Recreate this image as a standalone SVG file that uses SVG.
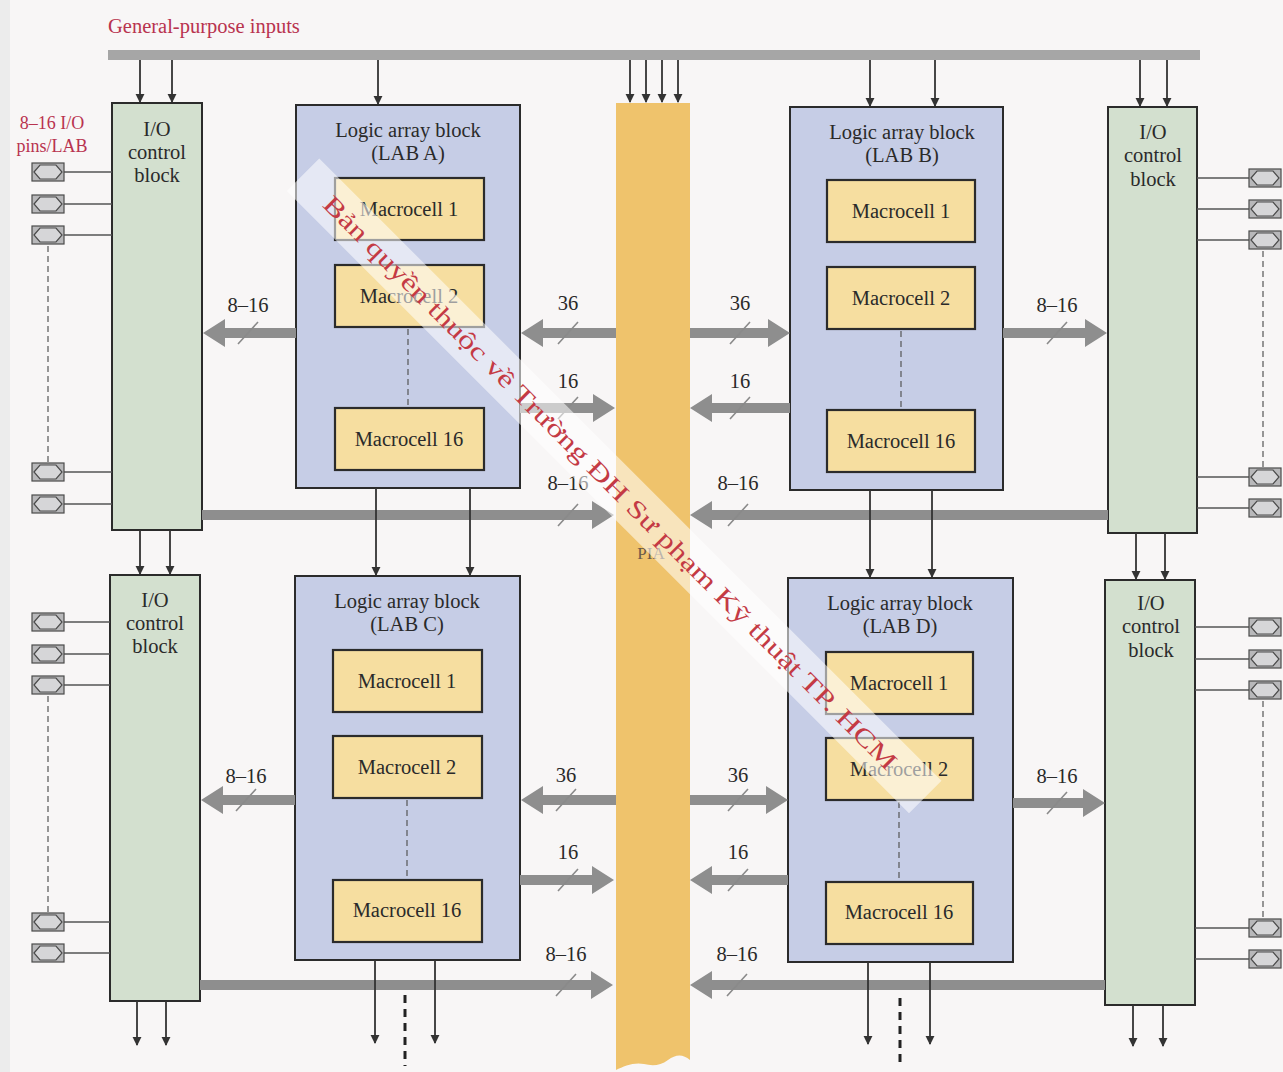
<svg xmlns="http://www.w3.org/2000/svg" xmlns:xlink="http://www.w3.org/1999/xlink" width="1283" height="1072" viewBox="0 0 1283 1072">
<style>
text{font-family:"Liberation Serif","Times New Roman",serif;fill:#2a2a2a;}
.t{font-size:20.5px;text-anchor:middle;}
.red{fill:#b8334f;font-size:18px;}
.io{fill:#d3e0cf;stroke:#2b2b2b;stroke-width:2;}
.lab{fill:#c6cde6;stroke:#2b2b2b;stroke-width:2;}
.mc{fill:#f6dea0;stroke:#2b2b2b;stroke-width:2.2;}
.fat{fill:#8e8e8e;}
.tick{stroke:#8a8a8a;stroke-width:1.6;fill:none;}
.thin{stroke:#333;stroke-width:1.8;fill:none;marker-end:url(#ah);}
.pinline{stroke:#555;stroke-width:1.4;}
.dash{stroke:#555;stroke-width:1.2;stroke-dasharray:6 4;fill:none;}
.thickdash{stroke:#222;stroke-width:3;stroke-dasharray:8 6;fill:none;}
</style>
<defs>
<marker id="ah" viewBox="0 0 10 10" refX="9" refY="5" markerWidth="5" markerHeight="6" orient="auto" markerUnits="strokeWidth">
<path d="M0,0 L10,5 L0,10 Z" fill="#333"/>
</marker>
<g id="pin">
<rect x="-16" y="-9" width="32" height="18" fill="#b8b8ba" stroke="#4a4a4a" stroke-width="1.2"/>
<polygon points="-14,0 -8,-7 8,-7 14,0 8,7 -8,7" fill="#d6d6d8" stroke="#4a4a4a" stroke-width="1.2"/>
</g>
</defs>
<rect x="0" y="0" width="1283" height="1072" fill="#f8f6f6"/>
<rect x="0" y="0" width="10" height="1072" fill="#ececec"/>

<!-- General-purpose inputs bus -->
<g id="bus">
<text x="108" y="33" class="red" style="font-size:20.5px;">General-purpose inputs</text>
<rect x="108" y="50" width="1092" height="10" fill="#a6a6a6"/>
</g>

<!-- PIA -->
<g id="pia">
<path d="M616,103 H690 V1060 C683,1054 676,1054 668,1060 C660,1066 652,1066 644,1064 C634,1062 624,1066 616,1070 Z" fill="#efc36c"/>
<text x="651" y="559" style="font-size:17px;fill:#6a5a4a;" text-anchor="middle">PIA</text>
</g>

<!-- I/O control blocks -->
<g id="io-top-left">
<rect class="io" x="112" y="103" width="90" height="427"/>
<text class="t" x="157" y="136">I/O</text><text class="t" x="157" y="159">control</text><text class="t" x="157" y="182">block</text>
</g>
<g id="io-bottom-left">
<rect class="io" x="110" y="575" width="90" height="426"/>
<text class="t" x="155" y="607">I/O</text><text class="t" x="155" y="630">control</text><text class="t" x="155" y="653">block</text>
</g>
<g id="io-top-right">
<rect class="io" x="1108" y="107" width="89" height="426"/>
<text class="t" x="1153" y="139">I/O</text><text class="t" x="1153" y="162">control</text><text class="t" x="1153" y="186">block</text>
</g>
<g id="io-bottom-right">
<rect class="io" x="1105" y="580" width="90" height="425"/>
<text class="t" x="1151" y="610">I/O</text><text class="t" x="1151" y="633">control</text><text class="t" x="1151" y="657">block</text>
</g>

<!-- LABs -->
<g id="lab-a">
<rect class="lab" x="296" y="105" width="224" height="383"/>
<text class="t" x="408" y="137">Logic array block</text><text class="t" x="408" y="160">(LAB A)</text>
<g id="lab-a-mc1"><rect class="mc" x="335" y="178" width="149" height="62"/><text class="t" x="409" y="216">Macrocell 1</text></g>
<g id="lab-a-mc2"><rect class="mc" x="335" y="265" width="149" height="62"/><text class="t" x="409" y="303">Macrocell 2</text></g>
<line class="dash" x1="408" y1="329" x2="408" y2="406"/>
<g id="lab-a-mc16"><rect class="mc" x="335" y="408" width="149" height="62"/><text class="t" x="409" y="446">Macrocell 16</text></g>
</g>
<g id="lab-b">
<rect class="lab" x="790" y="107" width="213" height="383"/>
<text class="t" x="902" y="139">Logic array block</text><text class="t" x="902" y="162">(LAB B)</text>
<g id="lab-b-mc1"><rect class="mc" x="827" y="180" width="148" height="62"/><text class="t" x="901" y="218">Macrocell 1</text></g>
<g id="lab-b-mc2"><rect class="mc" x="827" y="267" width="148" height="62"/><text class="t" x="901" y="305">Macrocell 2</text></g>
<line class="dash" x1="901" y1="331" x2="901" y2="408"/>
<g id="lab-b-mc16"><rect class="mc" x="827" y="410" width="148" height="62"/><text class="t" x="901" y="448">Macrocell 16</text></g>
</g>
<g id="lab-c">
<rect class="lab" x="295" y="576" width="225" height="384"/>
<text class="t" x="407" y="608">Logic array block</text><text class="t" x="407" y="631">(LAB C)</text>
<g id="lab-c-mc1"><rect class="mc" x="333" y="650" width="149" height="62"/><text class="t" x="407" y="688">Macrocell 1</text></g>
<g id="lab-c-mc2"><rect class="mc" x="333" y="736" width="149" height="62"/><text class="t" x="407" y="774">Macrocell 2</text></g>
<line class="dash" x1="407" y1="800" x2="407" y2="878"/>
<g id="lab-c-mc16"><rect class="mc" x="333" y="880" width="149" height="62"/><text class="t" x="407" y="917">Macrocell 16</text></g>
</g>
<g id="lab-d">
<rect class="lab" x="788" y="578" width="225" height="384"/>
<text class="t" x="900" y="610">Logic array block</text><text class="t" x="900" y="633">(LAB D)</text>
<g id="lab-d-mc1"><rect class="mc" x="826" y="652" width="147" height="62"/><text class="t" x="899" y="690">Macrocell 1</text></g>
<g id="lab-d-mc2"><rect class="mc" x="826" y="738" width="147" height="62"/><text class="t" x="899" y="776">Macrocell 2</text></g>
<line class="dash" x1="899" y1="802" x2="899" y2="880"/>
<g id="lab-d-mc16"><rect class="mc" x="826" y="882" width="147" height="62"/><text class="t" x="899" y="919">Macrocell 16</text></g>
</g>

<!-- I/O pins -->
<g id="pins-left">
<text x="52" y="129" class="red" text-anchor="middle">8–16 I/O</text>
<text x="52" y="152" class="red" text-anchor="middle">pins/LAB</text>
<line class="pinline" x1="64" y1="172" x2="112" y2="172"/><use xlink:href="#pin" x="48" y="172"/>
<line class="pinline" x1="64" y1="204" x2="112" y2="204"/><use xlink:href="#pin" x="48" y="204"/>
<line class="pinline" x1="64" y1="235" x2="112" y2="235"/><use xlink:href="#pin" x="48" y="235"/>
<line class="dash" x1="48" y1="246" x2="48" y2="462"/>
<line class="pinline" x1="64" y1="472" x2="112" y2="472" stroke="#8a5a6a"/><use xlink:href="#pin" x="48" y="472"/>
<line class="pinline" x1="64" y1="504" x2="112" y2="504" stroke="#9a8a5a"/><use xlink:href="#pin" x="48" y="504"/>
<line class="pinline" x1="64" y1="622" x2="110" y2="622" stroke="#5a7ab0"/><use xlink:href="#pin" x="48" y="622"/>
<line class="pinline" x1="64" y1="654" x2="110" y2="654"/><use xlink:href="#pin" x="48" y="654"/>
<line class="pinline" x1="64" y1="685" x2="110" y2="685" stroke="#6a9a8a"/><use xlink:href="#pin" x="48" y="685"/>
<line class="dash" x1="48" y1="696" x2="48" y2="912"/>
<line class="pinline" x1="64" y1="922" x2="110" y2="922" stroke="#8a7a5a"/><use xlink:href="#pin" x="48" y="922"/>
<line class="pinline" x1="64" y1="953" x2="110" y2="953" stroke="#9a8a5a"/><use xlink:href="#pin" x="48" y="953"/>
</g>
<g id="pins-right">
<line class="pinline" x1="1197" y1="178" x2="1250" y2="178"/><use xlink:href="#pin" x="1265" y="178"/>
<line class="pinline" x1="1197" y1="209" x2="1250" y2="209"/><use xlink:href="#pin" x="1265" y="209"/>
<line class="pinline" x1="1197" y1="240" x2="1250" y2="240"/><use xlink:href="#pin" x="1265" y="240"/>
<line class="dash" x1="1263" y1="251" x2="1263" y2="467"/>
<line class="pinline" x1="1197" y1="477" x2="1250" y2="477" stroke="#a89a6a"/><use xlink:href="#pin" x="1265" y="477"/>
<line class="pinline" x1="1197" y1="508" x2="1250" y2="508" stroke="#b07a8a"/><use xlink:href="#pin" x="1265" y="508"/>
<line class="pinline" x1="1195" y1="627" x2="1250" y2="627" stroke="#c05a7a"/><use xlink:href="#pin" x="1265" y="627"/>
<line class="pinline" x1="1195" y1="659" x2="1250" y2="659" stroke="#7a7ab8"/><use xlink:href="#pin" x="1265" y="659"/>
<line class="pinline" x1="1195" y1="690" x2="1250" y2="690" stroke="#b0a86a"/><use xlink:href="#pin" x="1265" y="690"/>
<line class="dash" x1="1263" y1="701" x2="1263" y2="917"/>
<line class="pinline" x1="1195" y1="928" x2="1250" y2="928" stroke="#7aa8a8"/><use xlink:href="#pin" x="1265" y="928"/>
<line class="pinline" x1="1195" y1="959" x2="1250" y2="959" stroke="#b09a5a"/><use xlink:href="#pin" x="1265" y="959"/>
</g>

<!-- Connectors -->
<g id="connectors">
<!-- fat bus arrows, top half -->
<polygon class="fat" points="296,328 225,328 225,319 203,333 225,347 225,338 296,338"/>
<polygon class="fat" points="616,328 543,328 543,319 521,333 543,347 543,338 616,338"/>
<polygon class="fat" points="690,328 768,328 768,319 790,333 768,347 768,338 690,338"/>
<polygon class="fat" points="1003,328 1085,328 1085,319 1107,333 1085,347 1085,338 1003,338"/>
<polygon class="fat" points="520,403 593,403 593,394 615,408 593,422 593,413 520,413"/>
<polygon class="fat" points="790,403 712,403 712,394 690,408 712,422 712,413 790,413"/>
<polygon class="fat" points="202,510 592,510 592,501 614,515 592,529 592,520 202,520"/>
<polygon class="fat" points="1108,510 712,510 712,501 690,515 712,529 712,520 1108,520"/>
<!-- fat bus arrows, bottom half -->
<polygon class="fat" points="295,795 223,795 223,786 201,800 223,814 223,805 295,805"/>
<polygon class="fat" points="616,795 543,795 543,786 521,800 543,814 543,805 616,805"/>
<polygon class="fat" points="690,795 766,795 766,786 788,800 766,814 766,805 690,805"/>
<polygon class="fat" points="1013,798 1083,798 1083,789 1105,803 1083,817 1083,808 1013,808"/>
<polygon class="fat" points="520,875 592,875 592,866 614,880 592,894 592,885 520,885"/>
<polygon class="fat" points="788,875 712,875 712,866 690,880 712,894 712,885 788,885"/>
<polygon class="fat" points="200,980 591,980 591,971 613,985 591,999 591,990 200,990"/>
<polygon class="fat" points="1105,980 712,980 712,971 690,985 712,999 712,990 1105,990"/>
<!-- ticks -->
<path class="tick" d="M238,344 L258,322 M558,344 L578,322 M730,344 L750,322 M1047,344 L1067,322 M558,419 L578,397 M730,419 L750,397 M558,526 L578,504 M728,526 L748,504 M236,811 L256,789 M556,811 L576,789 M728,811 L748,789 M1047,814 L1067,792 M558,891 L578,869 M728,891 L748,869 M556,996 L576,974 M727,996 L747,974"/>
<!-- bus labels -->
<text class="t" x="248" y="312">8–16</text>
<text class="t" x="568" y="310">36</text>
<text class="t" x="740" y="310">36</text>
<text class="t" x="1057" y="312">8–16</text>
<text class="t" x="568" y="388">16</text>
<text class="t" x="740" y="388">16</text>
<text class="t" x="568" y="490">8–16</text>
<text class="t" x="738" y="490">8–16</text>
<text class="t" x="246" y="783">8–16</text>
<text class="t" x="566" y="782">36</text>
<text class="t" x="738" y="782">36</text>
<text class="t" x="1057" y="783">8–16</text>
<text class="t" x="568" y="859">16</text>
<text class="t" x="738" y="859">16</text>
<text class="t" x="566" y="961">8–16</text>
<text class="t" x="737" y="961">8–16</text>
<!-- thin arrows from general-purpose inputs -->
<line class="thin" x1="140" y1="60" x2="140" y2="102"/>
<line class="thin" x1="172" y1="60" x2="172" y2="102"/>
<line class="thin" x1="378" y1="60" x2="378" y2="104"/>
<line class="thin" x1="630" y1="60" x2="630" y2="102"/>
<line class="thin" x1="646" y1="60" x2="646" y2="102"/>
<line class="thin" x1="662" y1="60" x2="662" y2="102"/>
<line class="thin" x1="678" y1="60" x2="678" y2="102"/>
<line class="thin" x1="870" y1="60" x2="870" y2="106"/>
<line class="thin" x1="935" y1="60" x2="935" y2="106"/>
<line class="thin" x1="1140" y1="60" x2="1140" y2="106"/>
<line class="thin" x1="1167" y1="60" x2="1167" y2="106"/>
<!-- vertical cascades -->
<line class="thin" x1="140" y1="530" x2="140" y2="574"/>
<line class="thin" x1="170" y1="530" x2="170" y2="574"/>
<line class="thin" x1="376" y1="488" x2="376" y2="575"/>
<line class="thin" x1="470" y1="488" x2="470" y2="575"/>
<line class="thin" x1="870" y1="490" x2="870" y2="577"/>
<line class="thin" x1="932" y1="490" x2="932" y2="577"/>
<line class="thin" x1="1136" y1="533" x2="1136" y2="579"/>
<line class="thin" x1="1165" y1="533" x2="1165" y2="579"/>
<!-- bottom outputs -->
<line class="thin" x1="137" y1="1001" x2="137" y2="1045"/>
<line class="thin" x1="166" y1="1001" x2="166" y2="1045"/>
<line class="thin" x1="375" y1="960" x2="375" y2="1043"/>
<line class="thin" x1="435" y1="960" x2="435" y2="1043"/>
<line class="thickdash" x1="405" y1="995" x2="405" y2="1066"/>
<line class="thin" x1="868" y1="962" x2="868" y2="1044"/>
<line class="thin" x1="930" y1="962" x2="930" y2="1044"/>
<line class="thickdash" x1="900" y1="998" x2="900" y2="1066"/>
<line class="thin" x1="1133" y1="1005" x2="1133" y2="1046"/>
<line class="thin" x1="1163" y1="1005" x2="1163" y2="1046"/>
</g>

<!-- Watermark -->
<g id="watermark" transform="translate(612,488) rotate(45)">
<rect x="-440" y="-26" width="880" height="46" fill="#ffffff" opacity="0.55"/>
<text x="-405" y="6" textLength="800" lengthAdjust="spacingAndGlyphs" style="font-size:25px;fill:#c43a44;">Bản quyền thuộc về Trường ĐH Sư phạm Kỹ thuật TP. HCM</text>
</g>
</svg>
